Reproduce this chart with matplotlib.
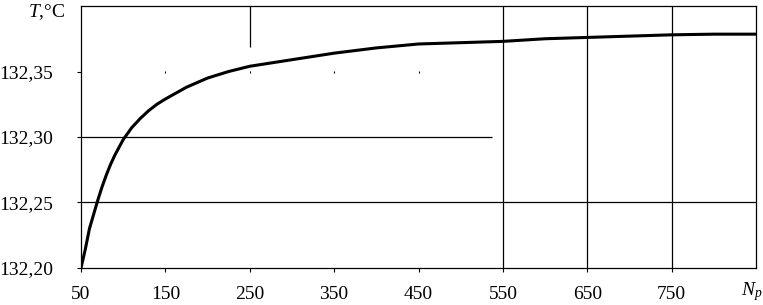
import matplotlib
matplotlib.use("Agg")
import matplotlib.pyplot as plt

# Data
Np = [50, 55, 60, 65, 70, 75, 80, 85, 90, 95, 100, 110, 120, 130, 140, 150,
      175, 200, 225, 250, 300, 350, 400, 450, 500, 550, 600, 650, 700, 750,
      800, 850]
T = [132.200, 132.214, 132.230, 132.241, 132.252, 132.262, 132.271, 132.279,
     132.286, 132.292, 132.298, 132.307, 132.314, 132.320, 132.325, 132.329,
     132.338, 132.345, 132.350, 132.354, 132.359, 132.364, 132.368, 132.371,
     132.372, 132.373, 132.375, 132.376, 132.377, 132.378, 132.3785, 132.3785]

x_ticks = [50, 150, 250, 350, 450, 550, 650, 750]
x_tick_labels = ["50", "150", "250", "350", "450", "550", "650", "750"]
y_ticks = [132.20, 132.25, 132.30, 132.35]
y_tick_labels = ["132,20", "132,25", "132,30", "132,35"]

plt.rcParams['font.family'] = ['Liberation Serif', 'DejaVu Serif']
plt.rcParams['mathtext.fontset'] = 'custom'
plt.rcParams['mathtext.rm'] = 'Liberation Serif'
plt.rcParams['mathtext.it'] = 'Liberation Serif:italic'

fig = plt.figure(figsize=(7.63, 3.05), dpi=100)
ax = fig.add_axes([81 / 763, 1 - 268 / 305, (756 - 81) / 763, (268 - 6) / 305])

ax.set_xlim(50, 850)
ax.set_ylim(132.20, 132.40)

# partial grid lines as in the reference
ax.hlines(132.25, 50, 850, color='black', lw=0.9)
ax.hlines(132.30, 50, 537, color='black', lw=0.9)
ax.vlines([550, 650, 750], 132.20, 132.40, color='black', lw=0.9)
ax.vlines(250, 132.369, 132.40, color='black', lw=0.9)
# tiny remnants of the 132,35 grid line
ax.plot([150, 250, 350, 450], [132.35] * 4, ls='none', marker='|',
        ms=2, mew=0.8, color='black')

ax.plot(Np, T, color='black', lw=2.2, solid_capstyle='round')

for s in ax.spines.values():
    s.set_linewidth(0.9)
    s.set_color('black')

ax.set_xticks(x_ticks)
ax.set_xticklabels(x_tick_labels)
ax.set_yticks(y_ticks)
ax.set_yticklabels(y_tick_labels)
ax.tick_params(axis='both', direction='out', length=3, width=0.8,
               labelsize=14, colors='black')
ax.tick_params(axis='y', pad=17)
ax.tick_params(axis='x', pad=10)

fig.text(65 / 763, 1 - 12 / 305, r'$T$,°C', ha='right', va='center', fontsize=14)
fig.text(752 / 763, 1 - 292 / 305, r'$N_p$', ha='center', va='center', fontsize=14)

fig.savefig('out.png', dpi=100)
